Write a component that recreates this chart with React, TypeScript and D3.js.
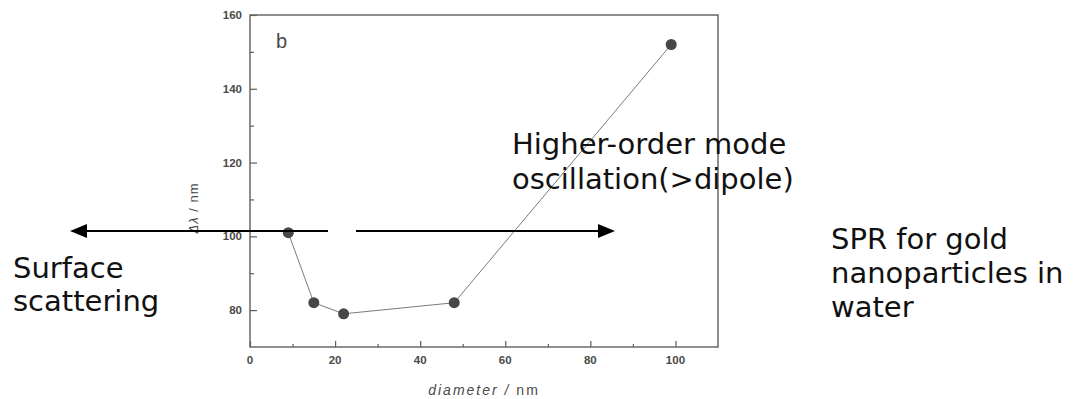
import React, { useEffect, useRef } from 'react';
import * as d3 from 'd3';

// data
const diameters = [9, 15, 22, 48, 99];
const shifts = [101, 82, 79, 82, 152];
const xTicks = [0, 20, 40, 60, 80, 100];
const xMinorTicks = [10, 30, 50, 70, 90];
const yTicks = [80, 100, 120, 140, 160];
const yMinorTicks = [90, 110, 130, 150];

const leftNote = ['Surface', 'scattering'];
const midNote = ['Higher-order mode', 'oscillation(>dipole)'];
const rightNote = ['SPR for gold', 'nanoparticles in', 'water'];

const W = 1073;
const H = 399;

const App = () => {
    const svgRef = useRef<SVGSVGElement>(null);

    useEffect(() => {
        const svg = d3.select(svgRef.current);
        svg.selectAll('*').remove();

        const plot = { left: 250, right: 718, top: 15, bottom: 347 };
        const axisColor = '#5e5e5e';
        const labelColor = '#4a4a4a';

        const x = d3.scaleLinear().domain([0, 110]).range([plot.left, plot.right]);
        const y = d3.scaleLinear().domain([70, 160]).range([plot.bottom, plot.top]);

        // frame
        svg.append('rect')
            .attr('x', plot.left)
            .attr('y', plot.top)
            .attr('width', plot.right - plot.left)
            .attr('height', plot.bottom - plot.top)
            .attr('fill', 'none')
            .attr('stroke', axisColor)
            .attr('stroke-width', 1.4);

        // inward ticks on bottom axis
        const xAxis = svg.append('g').attr('transform', `translate(0,${plot.bottom})`);
        xAxis.call(d3.axisTop(x).tickValues(xTicks).tickSize(6).tickFormat(() => ''));
        xAxis.append('g').call(d3.axisTop(x).tickValues(xMinorTicks).tickSize(3).tickFormat(() => ''));
        xAxis.selectAll('.domain').remove();
        xAxis.selectAll('line').attr('stroke', axisColor).attr('stroke-width', 1.2);

        svg.append('g').selectAll('text')
            .data(xTicks)
            .enter()
            .append('text')
            .attr('x', d => x(d))
            .attr('y', plot.bottom + 17)
            .attr('text-anchor', 'middle')
            .attr('font-family', 'Liberation Sans, Arial, sans-serif')
            .attr('font-size', 11.5)
            .attr('font-weight', 'bold')
            .attr('fill', labelColor)
            .text(d => d);

        // inward ticks on left axis
        const yAxis = svg.append('g').attr('transform', `translate(${plot.left},0)`);
        yAxis.call(d3.axisRight(y).tickValues(yTicks).tickSize(7).tickFormat(() => ''));
        yAxis.append('g').call(d3.axisRight(y).tickValues(yMinorTicks).tickSize(4).tickFormat(() => ''));
        yAxis.selectAll('.domain').remove();
        yAxis.selectAll('line').attr('stroke', axisColor).attr('stroke-width', 1.2);

        svg.append('g').selectAll('text')
            .data(yTicks)
            .enter()
            .append('text')
            .attr('x', plot.left - 8)
            .attr('y', d => y(d) + 4)
            .attr('text-anchor', 'end')
            .attr('font-family', 'Liberation Sans, Arial, sans-serif')
            .attr('font-size', 11.5)
            .attr('font-weight', 'bold')
            .attr('fill', labelColor)
            .text(d => d);

        // axis titles
        const xTitle = svg.append('text')
            .attr('x', (plot.left + plot.right) / 2)
            .attr('y', 395)
            .attr('text-anchor', 'middle')
            .attr('font-family', 'Liberation Sans, Arial, sans-serif')
            .attr('font-size', 14)
            .attr('letter-spacing', 2)
            .attr('fill', labelColor);
        xTitle.append('tspan').attr('font-style', 'italic').text('diameter / ');
        xTitle.append('tspan').text('nm');

        const yTitle = svg.append('text')
            .attr('transform', 'translate(198,208) rotate(-90)')
            .attr('text-anchor', 'middle')
            .attr('font-family', 'Liberation Sans, Arial, sans-serif')
            .attr('font-size', 13)
            .attr('letter-spacing', 1)
            .attr('fill', labelColor);
        yTitle.append('tspan').attr('font-style', 'italic').text('Δλ');
        yTitle.append('tspan').text(' / nm');

        svg.append('text')
            .attr('x', 276)
            .attr('y', 48)
            .attr('font-family', 'Liberation Sans, Arial, sans-serif')
            .attr('font-size', 20)
            .attr('fill', labelColor)
            .text('b');

        // data
        const line = d3.line<number>()
            .x((d, i) => x(diameters[i]))
            .y(d => y(d));

        svg.append('path')
            .datum(shifts)
            .attr('d', line)
            .attr('fill', 'none')
            .attr('stroke', '#7a7a7a')
            .attr('stroke-width', 1);

        svg.selectAll('.pt')
            .data(shifts)
            .enter()
            .append('circle')
            .attr('class', 'pt')
            .attr('cx', (d, i) => x(diameters[i]))
            .attr('cy', d => y(d))
            .attr('r', 5.5)
            .attr('fill', '#474747');

        // arrows
        const arrowY = 231;
        svg.append('line')
            .attr('x1', 86).attr('y1', arrowY)
            .attr('x2', 328).attr('y2', arrowY)
            .attr('stroke', '#000').attr('stroke-width', 2);
        svg.append('path')
            .attr('d', `M70,${arrowY} L87,${arrowY - 7} L87,${arrowY + 7} Z`)
            .attr('fill', '#000');

        svg.append('line')
            .attr('x1', 356).attr('y1', arrowY)
            .attr('x2', 599).attr('y2', arrowY)
            .attr('stroke', '#000').attr('stroke-width', 2);
        svg.append('path')
            .attr('d', `M615,${arrowY} L598,${arrowY - 7} L598,${arrowY + 7} Z`)
            .attr('fill', '#000');

        // notes
        const note = (lines: string[], x0: number, y0: number, step: number) => {
            svg.append('g').selectAll('text')
                .data(lines)
                .enter()
                .append('text')
                .attr('x', x0)
                .attr('y', (d, i) => y0 + i * step)
                .attr('font-family', 'DejaVu Sans, sans-serif')
                .attr('font-size', 29)
                .attr('fill', '#111')
                .text(d => d);
        };
        note(leftNote, 13, 278, 33);
        note(midNote, 512, 154, 35);
        note(rightNote, 831, 249, 34);
    }, []);

    return (
        <svg
            ref={svgRef}
            width={W}
            height={H}
            style={{ position: 'absolute', left: 0, top: 0, background: '#fff' }}
        />
    );
};

export default App;
